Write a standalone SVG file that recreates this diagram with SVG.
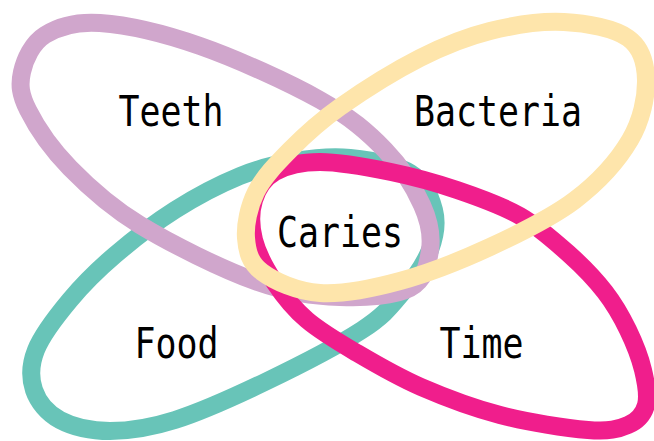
<svg xmlns="http://www.w3.org/2000/svg" width="654" height="441" viewBox="0 0 654 441">
<style>
.ring{fill:none;stroke-width:18;stroke-linejoin:round}
.lbl{font-family:"DejaVu Sans Mono","Liberation Mono",monospace;font-size:42px;fill:#000;text-anchor:middle}
</style>
<rect width="654" height="441" fill="#fff"/>
<g id="food">
<path class="ring" stroke="#68C4B8" d="M350,158 C369.2,160 396,164.3 410,173 C424,181.7 430.7,197.2 434,210 C437.3,222.8 435.3,236.2 430,250 C424.7,263.8 413.3,279.7 402,293 C390.7,306.3 384.8,315.2 362,330 C339.2,344.8 296.2,367 265,382 C233.8,397 200.8,411.8 175,420 C149.2,428.2 129.2,431 110,431 C90.8,431 72.7,426.8 60,420 C47.3,413.2 38,401.7 34,390 C30,378.3 30,365 36,350 C42,335 56.8,315.8 70,300 C83.2,284.2 97.5,270 115,255 C132.5,240 154.2,223.2 175,210 C195.8,196.8 220,184.2 240,176 C260,167.8 276.7,164 295,161 C313.3,158 330.8,156 350,158 Z"/>
<text class="lbl" x="176.5" y="358" textLength="84" lengthAdjust="spacingAndGlyphs">Food</text>
</g>
<g id="teeth">
<path class="ring" stroke="#D0A6CC" d="M100,23 C125.8,24.8 163.3,33.2 200,46 C236.7,58.8 289.2,82.7 320,100 C350.8,117.3 368,132.5 385,150 C402,167.5 414.5,188.3 422,205 C429.5,221.7 432,236.2 430,250 C428,263.8 425,280.2 410,288 C395,295.8 365.8,298.2 340,297 C314.2,295.8 288.3,293 255,281 C221.7,269 170.8,243.8 140,225 C109.2,206.2 88.7,187.2 70,168 C51.3,148.8 36,126 28,110 C20,94 19.2,84.5 22,72 C24.8,59.5 32,43.2 45,35 C58,26.8 74.2,21.2 100,23 Z"/>
<text class="lbl" x="171" y="126" textLength="105" lengthAdjust="spacingAndGlyphs">Teeth</text>
</g>
<g id="time">
<path class="ring" stroke="#F01E8C" d="M320,162 C339.3,162 368.2,167.3 391,172 C413.8,176.7 435.5,182.7 457,190 C478.5,197.3 501.2,205.2 520,216 C538.8,226.8 555.8,242.3 570,255 C584.2,267.7 595.3,279.5 605,292 C614.7,304.5 621.7,317 628,330 C634.3,343 640,357.5 643,370 C646,382.5 648.5,395.8 646,405 C643.5,414.2 637.7,420.8 628,425 C618.3,429.2 609.3,431.7 588,430 C566.7,428.3 527.8,422.2 500,415 C472.2,407.8 444.8,397.3 421,387 C397.2,376.7 376,364.2 357,353 C338,341.8 320.7,331.7 307,320 C293.3,308.3 283.8,296.3 275,283 C266.2,269.7 257.5,253.8 254,240 C250.5,226.2 250.5,211.3 254,200 C257.5,188.7 264,178.3 275,172 C286,165.7 300.7,162 320,162 Z"/>
<text class="lbl" x="481.5" y="358" textLength="84" lengthAdjust="spacingAndGlyphs">Time</text>
</g>
<g id="bacteria">
<path class="ring" stroke="#FEE5AB" d="M564,22 C587,23.2 614.3,28.3 628,38 C641.7,47.7 645.7,63 646,80 C646.3,97 641.8,120 630,140 C618.2,160 598.3,182.2 575,200 C551.7,217.8 519.2,233.5 490,247 C460.8,260.5 428.3,273.3 400,281 C371.7,288.7 343,294.5 320,293 C297,291.5 274.3,281.2 262,272 C249.7,262.8 247,251.3 246,238 C245,224.7 248.7,206.7 256,192 C263.3,177.3 276,164.2 290,150 C304,135.8 318.3,122.3 340,107 C361.7,91.7 395,70.7 420,58 C445,45.3 466,37 490,31 C514,25 541,20.8 564,22 Z"/>
<text class="lbl" x="498" y="126" textLength="168" lengthAdjust="spacingAndGlyphs">Bacteria</text>
</g>
<g id="caries">
<text class="lbl" x="340" y="247" textLength="126" lengthAdjust="spacingAndGlyphs">Caries</text>
</g>
<g id="connectors"></g>
</svg>
